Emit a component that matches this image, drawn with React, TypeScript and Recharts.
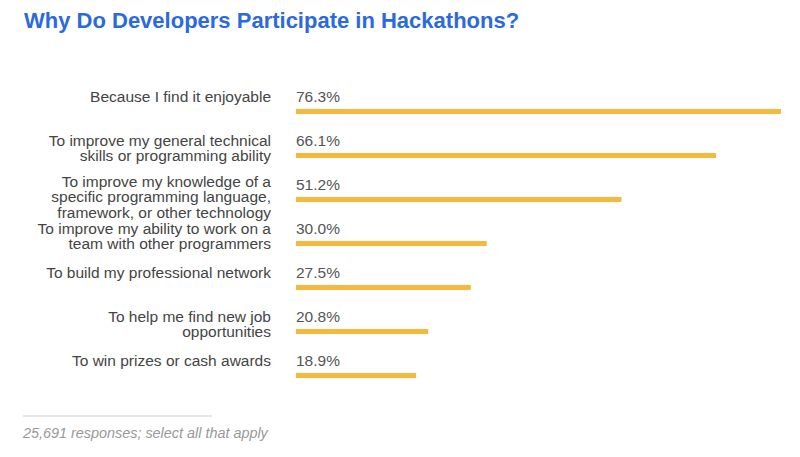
import React from "react";
import { BarChart, Bar, XAxis, YAxis, LabelList } from "recharts";

const categories = [
  "Because I find it enjoyable",
  "To improve my general technical\nskills or programming ability",
  "To improve my knowledge of a\nspecific programming language,\nframework, or other technology",
  "To improve my ability to work on a\nteam with other programmers",
  "To build my professional network",
  "To help me find new job\nopportunities",
  "To win prizes or cash awards",
];

const values = [76.3, 66.1, 51.2, 30.0, 27.5, 20.8, 18.9];

const data = categories.map((name, i) => ({ name, value: values[i] }));

const FONT = "'Liberation Sans', Arial, Helvetica, sans-serif";
const BAR_COLOR = "#f6b93e";

function CategoryTick({ x, y, payload }: any) {
  const lines = String(payload.value).split("\n");
  // long labels sit a little higher so they don't run into the next row
  const lift = lines.length >= 3 ? 18 : 15;
  return (
    <text
      x={x}
      y={y - lift}
      textAnchor="end"
      fontFamily={FONT}
      fontSize={15.5}
      fill="#444"
    >
      {lines.map((line, i) => (
        <tspan key={i} x={x} dy={i === 0 ? 5.5 : 15.5}>
          {line}
        </tspan>
      ))}
    </text>
  );
}

function ValueLabel({ x, y, height, value }: any) {
  return (
    <text
      x={x}
      y={y + height / 2 - 15}
      dy={5.5}
      textAnchor="start"
      fontFamily={FONT}
      fontSize={15.5}
      fill="#555"
    >
      {Number(value).toFixed(1)}%
    </text>
  );
}

export default function App() {
  return (
    <div
      style={{
        position: "absolute",
        left: 0,
        top: 0,
        width: 800,
        height: 457,
        background: "#fff",
        fontFamily: FONT,
      }}
    >
      <div
        style={{
          position: "absolute",
          left: 24,
          top: 8,
          fontSize: 22,
          fontWeight: "bold",
          color: "#2a69e0",
          whiteSpace: "nowrap",
        }}
      >
        Why Do Developers Participate in Hackathons?
      </div>

      <div style={{ position: "absolute", left: 0, top: 0 }}>
        <BarChart
          width={800}
          height={400}
          data={data}
          layout="vertical"
          margin={{ top: 89, right: 19, bottom: 3, left: 0 }}
        >
          <XAxis type="number" hide domain={[0, "dataMax"]} />
          <YAxis
            type="category"
            dataKey="name"
            width={296}
            interval={0}
            tickLine={false}
            axisLine={false}
            tickSize={0}
            tickMargin={25}
            tick={<CategoryTick />}
          />
          <Bar
            dataKey="value"
            fill={BAR_COLOR}
            barSize={5}
            isAnimationActive={false}
          >
            <LabelList dataKey="value" content={<ValueLabel />} />
          </Bar>
        </BarChart>
      </div>

      {/* footer */}
      <div
        style={{
          position: "absolute",
          left: 23,
          top: 415,
          width: 189,
          height: 2,
          background: "#e6e6e6",
        }}
      />
      <div
        style={{
          position: "absolute",
          left: 23,
          top: 425,
          fontSize: 14.4,
          fontStyle: "italic",
          color: "#999",
          whiteSpace: "nowrap",
        }}
      >
        25,691 responses; select all that apply
      </div>
    </div>
  );
}
